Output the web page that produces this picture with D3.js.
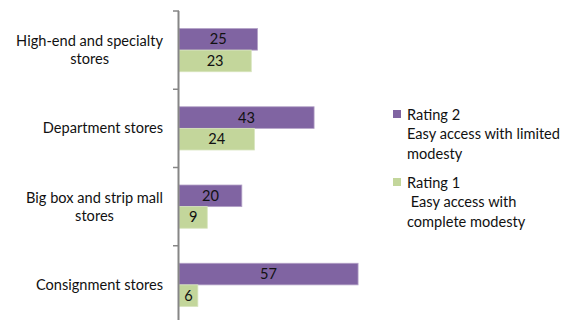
<!DOCTYPE html>
<html>
<head>
<meta charset="utf-8">
<script src="https://d3js.org/d3.v7.min.js"></script>
<style>
  body { margin: 0; background: #fff; }
  svg { font-family: Lato, "Liberation Sans", sans-serif; }
</style>
</head>
<body>
<div id="chart"></div>
<script>
// Data
const categories = ["High-end and specialty\nstores", "Department stores", "Big box and strip mall\nstores", "Consignment stores"];
const series = ["Rating 2", "Rating 1"];
const rating2 = [25, 43, 20, 57];
const rating1 = [23, 24, 9, 6];
const legendLabels = [
  ["Rating 2", "Easy access with limited", "modesty"],
  ["Rating 1", " Easy access with", "complete modesty"]
];
const colors = ["#8064A2", "#C3D69B"];
const strokes = ["#B3A2C7", "#D7E4BD"];

const width = 563, height = 320;
const fontSize = "14.6px";

const svg = d3.select("#chart").append("svg")
  .attr("width", width)
  .attr("height", height);

// Scales
const y = d3.scaleBand()
  .domain(categories)
  .range([11, 324]);

const ySub = d3.scaleBand()
  .domain(series)
  .range([0, y.bandwidth()])
  .paddingOuter(0.81);

const x = d3.scaleLinear()
  .domain([0, 60])
  .range([179, 367.5]);

const rows = categories.map((c, i) => ({ cat: c, values: [rating2[i], rating1[i]] }));

// Bars
const groups = svg.append("g").selectAll("g")
  .data(rows)
  .join("g")
  .attr("transform", d => `translate(0,${y(d.cat)})`);

groups.selectAll("rect")
  .data(d => d.values.map((v, j) => ({ key: series[j], v, j })))
  .join("rect")
  .attr("x", x(0))
  .attr("y", d => ySub(d.key))
  .attr("width", d => x(d.v) - x(0))
  .attr("height", ySub.bandwidth())
  .attr("fill", d => colors[d.j])
  .attr("stroke", d => strokes[d.j])
  .attr("stroke-width", 0.8);

groups.selectAll("text")
  .data(d => d.values.map((v, j) => ({ key: series[j], v, j })))
  .join("text")
  .attr("x", d => (x(0) + x(d.v)) / 2)
  .attr("y", d => ySub(d.key) + ySub.bandwidth() / 2 + 5)
  .attr("text-anchor", "middle")
  .attr("font-size", fontSize)
  .attr("fill", "#111")
  .text(d => d.v);

// Axis
const axis = svg.append("g").attr("stroke", "#868686");
axis.append("line")
  .attr("x1", x(0) - 0.5).attr("x2", x(0) - 0.5)
  .attr("y1", y.range()[0]).attr("y2", height)
  .attr("stroke-width", 2);
const tickYs = categories.map(c => y(c)).concat([y.range()[1]]);
axis.selectAll("line.tick")
  .data(tickYs)
  .join("line")
  .attr("class", "tick")
  .attr("x1", x(0) - 6).attr("x2", x(0))
  .attr("y1", d => d).attr("y2", d => d)
  .attr("stroke-width", 1.5);

// Category labels (wrapped lines centered, block right-aligned)
const labelRight = 163;
categories.forEach(c => {
  const lines = c.split("\n");
  const g = svg.append("g");
  const lh = 18;
  const cy = y(c) + y.bandwidth() / 2;
  const texts = lines.map((l, k) => g.append("text")
    .attr("y", cy + 5 + (k - (lines.length - 1) / 2) * lh)
    .attr("text-anchor", "middle")
    .attr("font-size", fontSize)
    .attr("fill", "#111")
    .text(l));
  const maxW = d3.max(texts, t => t.node().getComputedTextLength());
  texts.forEach(t => t.attr("x", labelRight - maxW / 2));
});

// Legend
const legend = svg.append("g").attr("transform", "translate(393,110)");
legendLabels.forEach((lines, i) => {
  const g = legend.append("g").attr("transform", `translate(0,${i * 68})`);
  g.append("rect")
    .attr("width", 8).attr("height", 8)
    .attr("fill", colors[i]);
  g.selectAll("text")
    .data(lines)
    .join("text")
    .attr("x", 14)
    .attr("y", (d, k) => 9.5 + k * 19.5)
    .attr("font-size", fontSize)
    .attr("fill", "#111")
    .style("white-space", "pre")
    .text(d => d);
});
</script>
</body>
</html>
